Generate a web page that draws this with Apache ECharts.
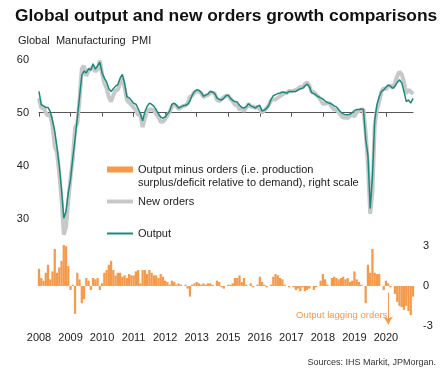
<!DOCTYPE html>
<html><head><meta charset="utf-8">
<script src="https://cdn.jsdelivr.net/npm/echarts@6/dist/echarts.min.js"></script>
<style>html,body{margin:0;padding:0;background:#fff}#c{width:447px;height:383px}</style>
</head><body><div id="c"></div>
<script>
// Monthly data, Jan 2008 .. Nov 2021
const tickLabels = ['2008','2009','2010','2011','2012','2013','2015','2016','2017','2018','2019','2020'];
const output = [
54.0,51.5,51.3,51.0,51.0,50.2,48.5,46.5,43.5,40.0,35.5,30.2,31.5,35.0,37.5,41.5,45.0,49.0,53.0,57.0,
57.8,57.5,58.3,58.0,59.2,58.2,58.8,59.5,57.5,56.5,55.8,54.5,54.0,54.5,55.0,55.3,56.5,57.2,55.5,53.0,
52.8,52.3,51.8,51.6,50.8,49.8,48.5,50.2,51.2,51.8,51.6,51.2,50.6,49.8,49.2,49.0,49.2,49.8,50.3,51.6,
51.8,51.4,50.9,51.1,51.3,51.4,51.6,52.2,53.3,54.0,54.3,54.2,53.8,53.1,53.3,53.5,54.0,53.9,53.6,52.8,
52.5,52.4,52.7,53.2,53.3,52.7,52.3,52.1,52.0,51.4,51.0,50.9,51.1,51.7,51.3,51.1,50.9,51.2,51.4,50.3,
50.5,50.8,51.4,52.5,53.2,53.4,53.6,53.7,53.9,53.8,53.7,54.0,54.0,54.0,54.0,54.3,54.5,54.6,55.0,55.4,
54.9,53.8,53.6,53.3,53.0,52.8,52.6,52.2,51.9,51.8,51.6,51.3,51.1,50.6,50.1,49.8,49.6,49.6,49.7,50.0,
50.4,50.6,50.6,50.7,50.6,45.0,42.0,32.0,38.0,48.5,51.5,53.0,54.0,54.3,54.8,55.2,55.0,54.6,55.0,55.7,
56.2,55.6,54.0,52.1,52.4,51.8,52.7
];
const newOrders = [
52.7,50.9,50.9,50.0,49.4,49.7,47.4,43.7,42.5,38.6,33.6,27.1,28.5,33.5,37.8,41.4,47.1,48.0,52.5,58.3,
58.8,56.9,57.9,58.3,58.6,57.7,58.2,59.8,57.3,55.5,54.6,52.9,52.1,53.3,54.2,54.3,55.5,56.5,54.7,52.4,
51.9,51.5,51.0,50.5,49.6,49.6,47.3,49.0,50.3,50.6,50.6,50.4,49.8,49.2,48.3,48.3,48.8,49.5,50.2,51.2,
51.5,51.3,50.7,51.0,51.3,51.3,51.8,53.0,53.2,53.8,54.0,54.0,53.7,52.9,53.2,53.3,53.8,53.8,53.6,52.4,
52.2,52.5,52.9,53.2,53.2,52.6,52.1,51.5,51.4,50.6,50.7,50.3,51.0,51.7,51.1,51.2,50.9,51.1,50.7,50.0,
50.4,50.9,51.4,52.4,52.5,52.5,52.8,53.1,53.4,53.7,53.7,54.1,54.0,54.1,54.3,54.5,54.9,54.7,55.4,55.7,
55.1,53.8,53.9,53.4,53.0,52.4,51.7,51.7,51.8,51.8,51.0,50.6,50.5,50.1,49.5,49.1,49.1,49.0,49.4,49.6,
49.3,50.1,50.3,50.6,50.6,46.3,40.4,31.0,35.2,47.5,50.6,52.1,54.0,54.6,54.4,55.0,55.1,54.6,55.6,56.9,
57.7,57.2,55.8,53.6,54.3,54.0,53.5
];
const gap = [
1.3,0.6,0.4,1.0,1.6,0.5,1.1,2.8,1.0,1.4,1.9,3.1,3.0,1.5,-0.3,0.1,-2.1,1.0,0.5,-1.3,
-1.0,0.6,0.4,-0.3,0.6,0.5,0.6,-0.3,0.2,1.0,1.2,1.6,1.9,1.2,0.8,1.0,1.0,0.7,0.8,0.6,
0.9,0.8,0.8,1.1,1.2,0.2,1.2,1.2,0.9,1.2,1.0,0.8,0.8,0.6,0.9,0.7,0.4,0.3,0.1,0.4,
0.3,0.1,0.2,0.1,0.0,0.1,-0.2,-0.8,0.1,0.2,0.3,0.2,0.1,0.2,0.1,0.2,0.2,0.1,0.0,0.4,
0.3,-0.1,-0.2,0.0,0.1,0.1,0.2,0.6,0.6,0.8,0.3,0.6,0.1,0.0,0.2,-0.1,0.0,0.1,0.7,0.3,
0.1,-0.1,0.0,0.1,0.7,0.9,0.8,0.6,0.5,0.1,0.0,-0.1,0.0,-0.1,-0.3,-0.2,-0.4,-0.1,-0.4,-0.3,
-0.2,0.0,-0.3,-0.1,0.0,0.4,0.9,0.5,0.1,0.0,0.6,0.7,0.6,0.5,0.6,0.7,0.5,0.6,0.3,0.4,
1.1,0.5,0.3,0.1,0.0,-1.3,1.6,1.0,2.8,1.0,0.9,0.9,0.0,-0.3,0.4,0.2,-0.1,0.0,-0.6,-1.2,
-1.5,-1.6,-1.8,-1.5,-1.9,-2.2,-0.8
];
const months = [];
for (let i = 0; i < output.length; i++) {
  const y = 2008 + Math.floor(i / 12), m = i % 12 + 1;
  months.push(y + '-' + (m < 10 ? '0' : '') + m);
}
const FONT = "'Liberation Sans', Arial, sans-serif";
const ORANGE = '#F59A4B', GREY = '#C8C8C8', TEAL = '#1B8A7E';
const barName = 'Output minus orders (i.e. production';

const chart = echarts.init(document.getElementById('c'), null, {renderer: 'canvas'});
chart.setOption({
  animation: false,
  textStyle: {fontFamily: FONT},
  grid: {left: 39, right: 34, top: 59.5, bottom: 57.3, outerBoundsMode: 'none'},
  xAxis: [{
    type: 'category', data: months, boundaryGap: false,
    axisLine: {show: false}, axisTick: {show: false}, splitLine: {show: false},
    axisLabel: {interval: 13, margin: 7, fontSize: 11, color: '#222', fontFamily: FONT,
      formatter: (v, i) => tickLabels[Math.round(i / 14)] || ''}
  }, {
    type: 'category', data: months, boundaryGap: false, position: 'bottom', offset: -213,
    axisLine: {show: true, lineStyle: {color: '#555', width: 1}},
    axisTick: {show: true, interval: 13, length: 4, lineStyle: {color: '#555'}},
    axisLabel: {show: false}, splitLine: {show: false}
  }],
  yAxis: [{
    type: 'value', min: 10, max: 60, interval: 10, position: 'left',
    axisLine: {show: false}, axisTick: {show: false}, splitLine: {show: false},
    axisLabel: {margin: 10, fontSize: 11, color: '#222', fontFamily: FONT,
      formatter: v => v >= 30 ? String(v) : ''}
  }, {
    type: 'value', min: -3, max: 17.1, interval: 3, position: 'right',
    axisLine: {show: false}, axisTick: {show: false}, splitLine: {show: false},
    axisLabel: {margin: 10, fontSize: 11, color: '#222', fontFamily: FONT,
      formatter: v => v <= 3 ? String(v) : ''}
  }],
  legend: [{
    data: [barName], left: 107, top: 164, icon: 'rect', itemWidth: 26, itemHeight: 6,
    selectedMode: false, padding: 0,
    textStyle: {fontSize: 11, color: '#222', fontFamily: FONT}
  }, {
    data: ['New orders'], left: 107, top: 196, icon: 'rect', itemWidth: 26, itemHeight: 4,
    selectedMode: false, padding: 0,
    textStyle: {fontSize: 11, color: '#222', fontFamily: FONT}
  }, {
    data: ['Output'], left: 107, top: 228, icon: 'rect', itemWidth: 26, itemHeight: 2,
    selectedMode: false, padding: 0,
    textStyle: {fontSize: 11, color: '#222', fontFamily: FONT}
  }],
  series: [{
    name: barName, type: 'bar', xAxisIndex: 0, yAxisIndex: 1, data: gap,
    barCategoryGap: '0%', itemStyle: {color: ORANGE},
    markLine: {
      silent: true, symbol: ['none', 'arrow'], symbolSize: [7, 8],
      lineStyle: {color: ORANGE, width: 1, type: 'solid'}, label: {show: false},
      data: [[{coord: [155, -0.5]}, {coord: [155, -2.9]}]]
    }
  }, {
    name: 'New orders', type: 'line', xAxisIndex: 0, yAxisIndex: 0, data: newOrders,
    showSymbol: false, lineStyle: {color: GREY, width: 4}, itemStyle: {color: GREY}, z: 3
  }, {
    name: 'Output', type: 'line', xAxisIndex: 0, yAxisIndex: 0, data: output,
    showSymbol: false, lineStyle: {color: TEAL, width: 1.5}, itemStyle: {color: TEAL}, z: 4
  }],
  graphic: [{
    type: 'text', left: 15, top: 8,
    style: {text: 'Global output and new orders growth comparisons', font: 'bold 17.4px ' + FONT, fill: '#111'}
  }, {
    type: 'text', left: 18, top: 35,
    style: {text: 'Global  Manufacturing  PMI', font: '11px ' + FONT, fill: '#222'}
  }, {
    type: 'text', left: 138, top: 177,
    style: {text: 'surplus/deficit relative to demand), right scale', font: '11px ' + FONT, fill: '#222'}
  }, {
    type: 'text', left: 296, top: 310,
    style: {text: 'Output lagging orders', font: '9.5px ' + FONT, fill: ORANGE}
  }, {
    type: 'text', right: 11, top: 358,
    style: {text: 'Sources: IHS Markit, JPMorgan.', font: '9px ' + FONT, fill: '#333'}
  }]
});
</script></body></html>
